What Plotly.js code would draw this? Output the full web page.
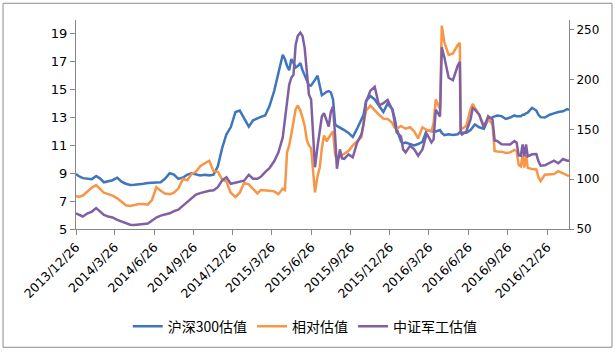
<!DOCTYPE html>
<html>
<head>
<meta charset="utf-8">
<script src="https://cdn.plot.ly/plotly-3.0.1.min.js"></script>
<style>html,body{margin:0;padding:0;background:#fff;}#chart{width:615px;height:355px;}</style>
</head>
<body>
<div id="chart"></div>
<script>
const dates = ['2013-12-26','2014-01-01','2014-01-11','2014-01-21','2014-02-01','2014-02-11','2014-02-21','2014-03-01','2014-03-11','2014-03-21',
'2014-04-01','2014-04-11','2014-04-21','2014-05-01','2014-05-11','2014-05-21','2014-06-01','2014-06-11','2014-06-21','2014-07-01',
'2014-07-11','2014-07-21','2014-08-01','2014-08-11','2014-08-21','2014-09-01','2014-09-11','2014-09-21','2014-10-01','2014-10-11',
'2014-10-21','2014-11-01','2014-11-11','2014-11-21','2014-12-01','2014-12-11','2014-12-21','2015-01-01','2015-01-11','2015-01-21',
'2015-02-01','2015-02-11','2015-02-21','2015-03-01','2015-03-11','2015-03-21','2015-04-01','2015-04-11','2015-04-21','2015-04-26',
'2015-05-01','2015-05-06','2015-05-11','2015-05-16','2015-05-21','2015-05-26','2015-06-01','2015-06-06','2015-06-11','2015-06-16',
'2015-06-21','2015-06-26','2015-07-01','2015-07-05','2015-07-11','2015-07-16','2015-07-21','2015-07-26','2015-08-01','2015-08-06',
'2015-08-11','2015-08-16','2015-08-21','2015-08-25','2015-09-01','2015-09-06','2015-09-11','2015-09-21','2015-10-01','2015-10-11',
'2015-10-21','2015-10-26','2015-11-01','2015-11-11','2015-11-21','2015-12-01','2015-12-11','2015-12-21','2016-01-01','2016-01-06',
'2016-01-11','2016-01-21','2016-01-26','2016-02-01','2016-02-11','2016-02-21','2016-03-01','2016-03-11','2016-03-21','2016-04-01',
'2016-04-06','2016-04-11','2016-04-21','2016-04-25','2016-05-01','2016-05-11','2016-05-21','2016-06-01','2016-06-06','2016-06-08',
'2016-06-11','2016-06-21','2016-07-01','2016-07-06','2016-07-11','2016-07-21','2016-08-01','2016-08-11','2016-08-21','2016-08-26',
'2016-09-01','2016-09-11','2016-09-21','2016-10-01','2016-10-11','2016-10-16','2016-10-21','2016-10-26','2016-10-30','2016-11-03',
'2016-11-07','2016-11-11','2016-11-21','2016-12-01','2016-12-06','2016-12-11','2016-12-21','2017-01-01','2017-01-11','2017-01-21',
'2017-02-01','2017-02-11','2017-02-15'];

// 沪深300估值 (left axis)
const hs300 = [8.95,8.8,8.65,8.6,8.58,8.8,8.6,8.35,8.4,8.5,
8.68,8.4,8.25,8.16,8.18,8.2,8.25,8.3,8.32,8.3,
8.35,8.6,9.0,8.9,8.6,8.7,8.9,9.0,8.9,8.85,
8.9,8.85,8.9,9.5,10.8,11.8,12.3,13.4,13.5,12.95,
12.35,12.8,12.95,13.05,13.15,13.8,14.9,16.1,17.5,17.2,
16.7,16.4,17.2,16.9,16.6,16.7,16.9,16.4,16.0,15.6,
15.3,15.3,15.5,15.7,16.0,15.4,14.6,14.7,14.85,14.9,
14.8,14.3,12.5,12.4,12.3,12.2,12.1,11.9,11.6,12.2,
12.8,13.2,14.2,14.55,14.3,13.8,13.4,14.0,13.6,13.0,
12.2,11.3,11.15,11.2,11.1,11.0,11.1,11.25,12.1,12.0,
12.0,12.0,12.1,11.9,11.74,11.8,11.75,11.8,11.9,12.0,
11.9,11.9,12.1,12.3,12.5,12.3,12.2,12.9,13.0,13.1,
13.15,13.1,12.9,13.0,13.15,13.1,13.1,13.1,13.2,13.2,
13.3,13.35,13.7,13.5,13.2,13.03,13.0,13.2,13.3,13.4,
13.45,13.6,13.55];

// 相对估值 (left axis)
const relative = [7.38,7.3,7.4,7.7,7.97,8.15,7.85,7.6,7.5,7.4,
7.2,6.95,6.7,6.65,6.72,6.8,6.8,6.75,7.1,8.0,
7.75,7.55,7.5,7.6,7.9,8.6,8.5,8.95,9.1,9.5,
9.7,9.9,9.15,9.1,8.56,8.4,7.6,7.3,7.6,8.3,
8.2,7.9,7.55,7.8,7.8,7.75,7.7,7.5,7.9,7.8,
10.5,11.0,11.8,12.8,13.6,13.85,13.5,13.0,12.4,11.4,
11.0,10.8,9.0,7.62,8.8,9.4,10.8,11.7,11.3,11.6,
11.8,12.0,10.3,10.0,10.2,10.3,10.4,10.6,11.0,11.3,
11.6,12.6,13.5,13.85,13.5,13.2,12.92,12.9,12.6,12.3,
12.2,12.4,12.3,12.2,12.3,12.0,11.5,12.3,12.1,12.0,
12.6,14.3,13.6,19.6,18.4,17.5,17.6,18.2,18.35,12.2,
12.2,12.4,13.6,13.98,13.7,13.2,12.45,12.9,12.5,10.6,
10.56,10.55,10.45,10.5,10.68,10.6,9.6,9.5,10.3,9.4,
10.3,9.4,9.3,9.27,8.7,8.44,8.9,8.9,8.95,9.15,
9.0,8.85,8.8];

// 中证军工估值 (right axis)
const military = [65.8,64.5,62.6,65.5,67.5,71.0,67.5,64.2,62.5,61.6,
59.2,57.5,55.2,54.3,54.0,54.8,55.0,55.5,58.5,61.5,
63.5,64.5,65.8,68.0,69.5,73.5,77.5,81.0,84.5,86.0,
87.3,88.5,89.0,92.0,98.8,102.0,95.5,96.5,97.0,98.5,
104.5,100.5,100.5,102.5,107.1,111.0,118.0,127.0,142.0,160.0,
179.7,195.0,202.0,205.0,235.0,244.0,247.3,244.0,232.0,206.0,
185.0,180.0,140.0,112.0,133.0,150.0,163.0,166.5,158.0,153.0,
168.0,173.0,143.0,110.5,130.0,121.0,120.5,125.0,122.0,136.8,
145.0,155.0,178.0,189.0,192.9,174.0,176.4,179.7,169.8,158.0,
147.0,143.0,130.0,127.0,133.5,130.0,123.6,130.0,146.0,137.0,
140.0,169.8,163.0,232.5,222.6,202.0,199.5,214.0,218.0,146.7,
145.0,148.0,160.0,171.5,170.0,165.0,151.7,163.2,160.0,139.0,
138.4,135.1,135.0,135.0,138.4,137.0,124.0,123.6,135.0,123.0,
135.0,123.0,125.0,125.2,118.0,113.7,114.0,116.0,118.6,116.0,
120.3,118.6,118.6];

const xTickVals = ['2013-12-26','2014-03-26','2014-06-26','2014-09-26','2014-12-26','2015-03-26','2015-06-26','2015-09-26','2015-12-26','2016-03-26','2016-06-26','2016-09-26','2016-12-26'];
const xTickText = ['2013/12/26','2014/3/26','2014/6/26','2014/9/26','2014/12/26','2015/3/26','2015/6/26','2015/9/26','2015/12/26','2016/3/26','2016/6/26','2016/9/26','2016/12/26'];
const leftTicks = [5,7,9,11,13,15,17,19];
const rightTicks = [50,100,150,200,250];
const seriesNames = ['沪深300估值','相对估值','中证军工估值'];

const axisColor = '#868686';
const numFont = 'DejaVu Sans, Verdana, sans-serif';

const traces = [
  {x: dates, y: hs300, name: seriesNames[0], type: 'scatter', mode: 'lines', yaxis: 'y',
   line: {color: '#3e76bc', width: 2.5}},
  {x: dates, y: relative, name: seriesNames[1], type: 'scatter', mode: 'lines', yaxis: 'y',
   line: {color: '#f79646', width: 2.5}},
  {x: dates, y: military, name: seriesNames[2], type: 'scatter', mode: 'lines', yaxis: 'y2',
   line: {color: '#7f60a4', width: 2.5}}
];

const layout = {
  width: 615, height: 355,
  margin: {l: 76, r: 46, t: 20, b: 123, pad: 0},
  paper_bgcolor: '#fff', plot_bgcolor: '#fff',
  showlegend: true,
  hovermode: false,
  xaxis: {
    type: 'date', range: ['2013-12-26', '2017-02-15'],
    tickmode: 'array', tickvals: xTickVals, ticktext: xTickText,
    tickangle: -45, ticks: 'outside', ticklen: 5, tickcolor: axisColor,
    showline: true, linecolor: axisColor, linewidth: 1,
    showgrid: false, zeroline: false,
    tickfont: {family: numFont, size: 12.5, color: '#000'}
  },
  yaxis: {
    range: [5, 20], tickmode: 'array', tickvals: leftTicks,
    ticks: 'outside', ticklen: 5, tickcolor: axisColor,
    showline: true, linecolor: axisColor, linewidth: 1,
    showgrid: false, zeroline: false,
    tickfont: {family: numFont, size: 13, color: '#000'}
  },
  yaxis2: {
    range: [50, 260], overlaying: 'y', side: 'right',
    tickmode: 'array', tickvals: rightTicks,
    ticks: 'outside', ticklen: 4, tickcolor: axisColor,
    showline: true, linecolor: axisColor, linewidth: 1,
    showgrid: false, zeroline: false,
    tickfont: {family: numFont, size: 12, color: '#000'}
  },
  legend: {
    orientation: 'h', x: 0.465, xanchor: 'center', y: -0.467, yanchor: 'middle',
    font: {family: 'Noto Sans CJK SC, sans-serif', size: 14, color: '#000'},
    bgcolor: 'rgba(0,0,0,0)', itemwidth: 30, tracegroupgap: 0
  },
  shapes: [{
    type: 'rect', xref: 'paper', yref: 'paper',
    x0: -0.148, x1: 1.0872, y0: -0.566, y1: 1.080,
    line: {color: '#8c8c8c', width: 1}, fillcolor: 'rgba(0,0,0,0)', layer: 'below'
  }]
};

Plotly.newPlot('chart', traces, layout, {displayModeBar: false, staticPlot: true});
</script>
</body>
</html>
